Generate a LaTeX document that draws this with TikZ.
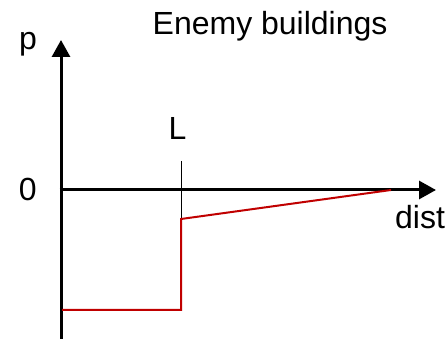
\documentclass[tikz,border=0pt]{standalone}
\usepackage{fontspec}
\setmainfont{Liberation Sans}
\usetikzlibrary{arrows.meta}
\definecolor{curvered}{RGB}{192,0,0}
\begin{document}
\begin{tikzpicture}[x=1pt,y=-1pt,
  axis/.style={line width=3pt,-{Triangle[length=17pt,width=18pt]}},
  lbl/.style={inner sep=0pt,anchor=base west,font=\fontsize{32}{38}\selectfont},
  curve/.style={line width=2pt,curvered,line join=miter}]
\useasboundingbox (0,0) rectangle (448,339);
\coordinate (ybot) at (61,339);
\coordinate (ytop) at (61,40);
\coordinate (xstart) at (59.5,190);
\coordinate (xend) at (436,190);
\coordinate (ticktop) at (181,161);
\coordinate (tickbot) at (181,219);
\coordinate (r0) at (62,310);
\coordinate (r1) at (181,310);
\coordinate (r2) at (181,219);
\coordinate (r3) at (391,190);
\draw[axis] (ybot) -- (ytop);
\draw[axis] (xstart) -- (xend);
\draw[line width=1pt] (ticktop) -- (tickbot);
\draw[curve] (r0) -- (r1) -- (r2) -- (r3);
\node[lbl] (title) at (152.5,35) {Enemy buildings};
\node[lbl] (p) at (19,50) {p};
\node[lbl] (L) at (168.5,140) {L};
\node[lbl] (zero) at (18.6,201) {0};
\node[lbl] (dist) at (395,229) {dist};
\end{tikzpicture}
\end{document}
